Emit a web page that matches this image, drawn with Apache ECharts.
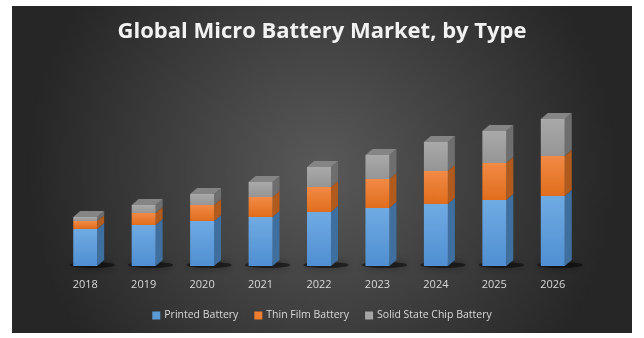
<!DOCTYPE html>
<html>
<head>
<meta charset="utf-8">
<script src="https://cdn.jsdelivr.net/npm/echarts@6/dist/echarts.min.js"></script>
<style>
html,body{margin:0;padding:0;background:#fff;}
#chart{width:644px;height:338px;}
</style>
</head>
<body>
<div id="chart"></div>
<script>
// ---- data ----
var categories = ['2018','2019','2020','2021','2022','2023','2024','2025','2026'];
var printedBattery = [37, 41, 45, 49, 54, 58, 62, 66, 70];
var thinFilmBattery = [8, 12, 16, 20, 25, 29, 33, 37, 40];
var solidStateChipBattery = [4, 8, 11, 15, 20, 24, 29, 32, 37];
var seriesNames = ['Printed Battery', 'Thin Film Battery', 'Solid State Chip Battery'];

// ---- styling ----
var faces = [
  {front: ['#6faae2', '#4f8fd2'], side: '#3e6f9f', top: '#5b8fc2', legend: '#5b9bd5'},
  {front: ['#f28a45', '#e06d1c'], side: '#b05a1d', top: '#c8682a', legend: '#ed7d31'},
  {front: ['#a9a9a9', '#959595'], side: '#6e6e6e', top: '#858585', legend: '#a5a5a5'}
];
var DX = 7, DY = -6;

var stacks = [printedBattery, thinFilmBattery, solidStateChipBattery];
function segData(k) {
  return categories.map(function (c, i) {
    var base = 0;
    for (var j = 0; j < k; j++) base += stacks[j][i];
    return [i, base, base + stacks[k][i]];
  });
}

function makeRender(k) {
  var isTop = (k === stacks.length - 1);
  var f = faces[k];
  return function (params, api) {
    var idx = api.value(0);
    var p0 = api.coord([idx, api.value(1)]);
    var p1 = api.coord([idx, api.value(2)]);
    var band = api.size([1, 0])[0];
    var w = band * 0.41;
    var x = p0[0] - w / 2;
    var h = p0[1] - p1[1];
    var children = [];
    if (k === 0) {
      children.push({
        type: 'ellipse',
        shape: {cx: p0[0] + 7, cy: p0[1] - 1, rx: w * 0.95, ry: 3},
        style: {fill: 'rgba(0,0,0,0.5)', shadowBlur: 8, shadowColor: 'rgba(0,0,0,0.8)'},
        z2: 0
      });
    }
    children.push({
      type: 'polygon',
      shape: {points: [[x + w, p0[1]], [x + w + DX, p0[1] + DY], [x + w + DX, p1[1] + DY], [x + w, p1[1]]]},
      style: {fill: f.side},
      z2: 1
    });
    if (isTop) {
      children.push({
        type: 'polygon',
        shape: {points: [[x, p1[1]], [x + DX, p1[1] + DY], [x + w + DX, p1[1] + DY], [x + w, p1[1]]]},
        style: {fill: f.top},
        z2: 1
      });
    }
    children.push({
      type: 'rect',
      shape: {x: x, y: p1[1], width: w, height: h},
      style: {fill: new echarts.graphic.LinearGradient(0, 0, 0, 1, [
        {offset: 0, color: f.front[0]}, {offset: 1, color: f.front[1]}])},
      z2: 2
    });
    return {type: 'group', children: children};
  };
}

var chart = echarts.init(document.getElementById('chart'), null, {renderer: 'canvas'});
var series = stacks.map(function (s, k) {
  return {
    name: seriesNames[k],
    type: 'custom',
    renderItem: makeRender(k),
    itemStyle: {color: faces[k].legend},
    encode: {x: 0, y: [1, 2]},
    data: segData(k),
    z: 2 + k
  };
});

chart.setOption({
  animation: false,
  backgroundColor: '#ffffff',
  graphic: [{
    type: 'rect',
    z: -10,
    shape: {x: 12, y: 6, width: 620, height: 327},
    style: {fill: {
      type: 'radial', x: 0.5, y: 0.5, r: 0.9,
      colorStops: [{offset: 0, color: '#595959'}, {offset: 1, color: '#262626'}]
    }}
  }],
  title: {
    text: 'Global Micro Battery Market, by Type',
    left: 'center',
    top: 16,
    textStyle: {color: '#f2f2f2', fontFamily: 'Open Sans', fontWeight: 'bold', fontSize: 22}
  },
  legend: {
    bottom: 12,
    left: 'center',
    itemWidth: 8,
    itemHeight: 8,
    itemGap: 16,
    icon: 'rect',
    textStyle: {color: '#d9d9d9', fontFamily: 'Open Sans', fontSize: 10.5, padding: [0, 0, 0, -1]},
    data: seriesNames
  },
  grid: {left: 56, right: 62, top: 66, bottom: 72},
  xAxis: {
    type: 'category',
    data: categories,
    axisLine: {show: false},
    axisTick: {show: false},
    axisLabel: {color: '#d9d9d9', fontFamily: 'Open Sans', fontSize: 11, margin: 13}
  },
  yAxis: {
    type: 'value',
    min: 0,
    max: 200,
    show: false,
    splitLine: {show: false}
  },
  series: series
});
</script>
</body>
</html>
